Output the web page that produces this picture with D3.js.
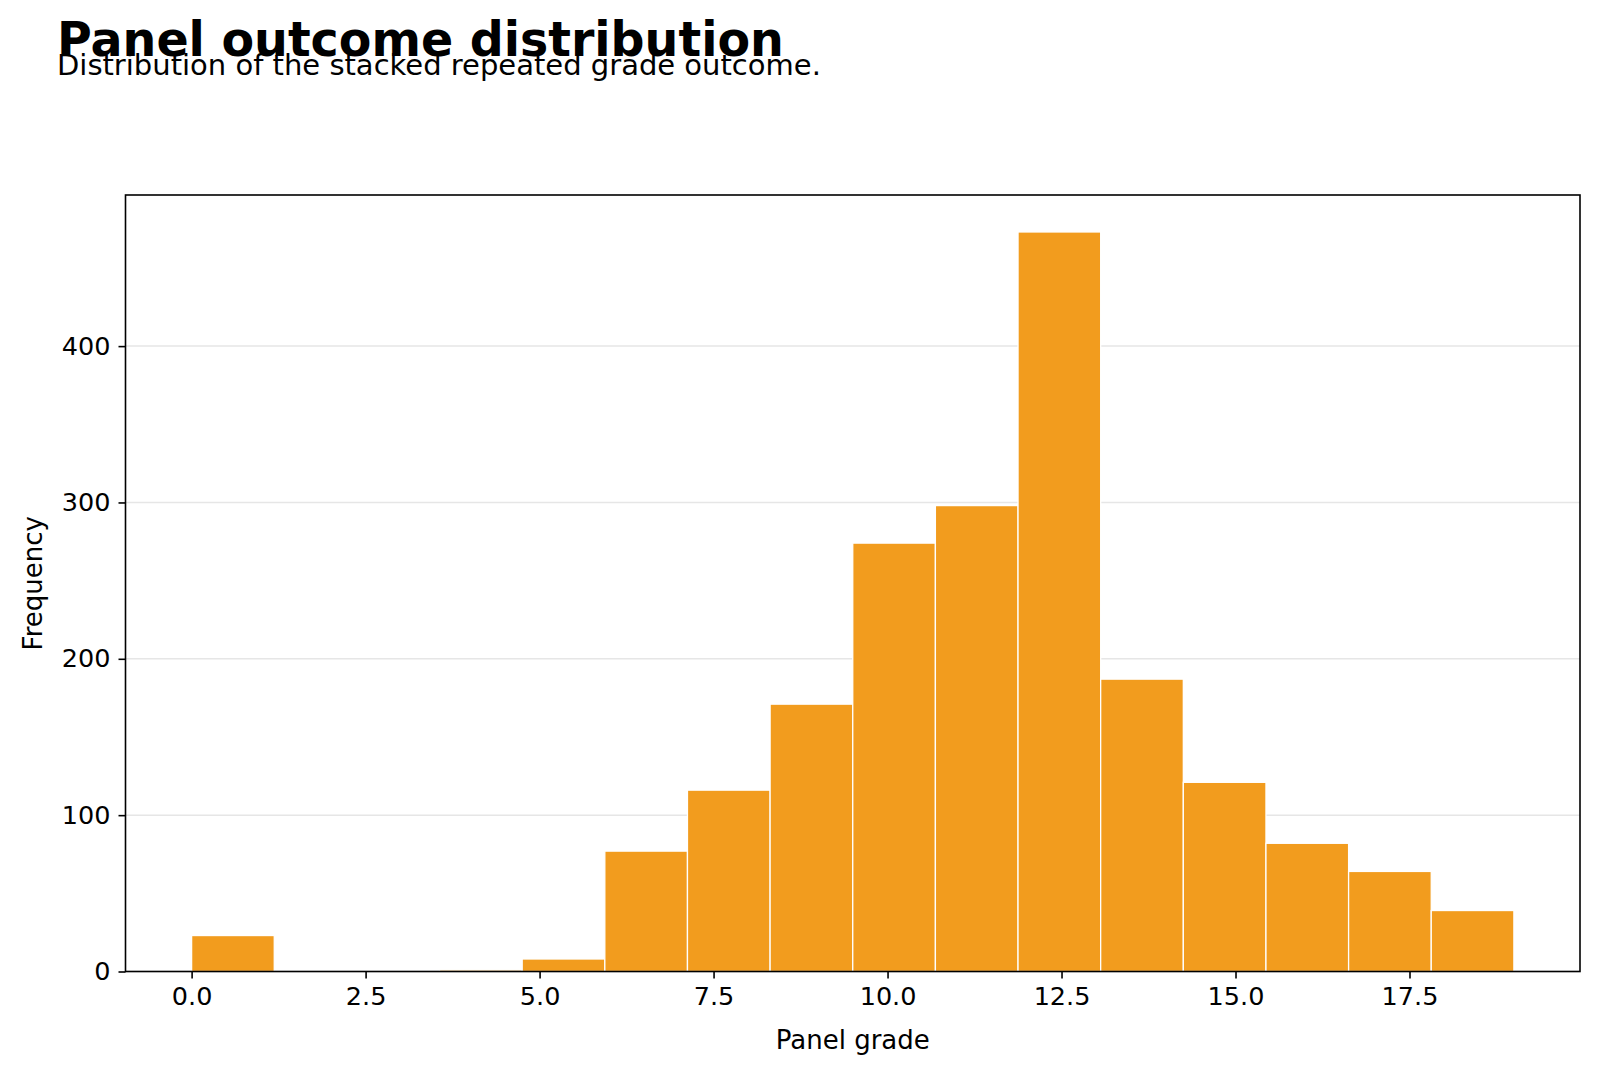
<!DOCTYPE html>
<html>
<head>
<meta charset="utf-8">
<script src="https://cdn.jsdelivr.net/npm/d3@7"></script>
<style>
  body { margin: 0; background: #fff; }
  svg text { font-family: "DejaVu Sans", sans-serif; fill: #000; }
</style>
</head>
<body>
<div id="chart"></div>
<script>
// histogram bins: 16 equal bins between 0 and 19
var binStart = 0,
    binEnd = 19;
var counts = [23, 0, 0, 1, 8, 77, 116, 171, 274, 298, 473, 187, 121, 82, 64, 39];
var xTicks = [0, 2.5, 5, 7.5, 10, 12.5, 15, 17.5];
var yTicks = [0, 100, 200, 300, 400];

var width = 1600,
    height = 1073;
var m = {left: 125.5, right: 20, top: 195, bottom: 101.5};

var svg = d3.select("#chart").append("svg")
    .attr("width", width)
    .attr("height", height);

var binW = (binEnd - binStart) / counts.length;
var bins = counts.map(function(c, i) {
  return {x0: binStart + i * binW, x1: binStart + (i + 1) * binW, n: c};
});

var pad = (binEnd - binStart) * 0.05;
var x = d3.scaleLinear()
    .domain([binStart - pad, binEnd + pad])
    .range([m.left, width - m.right]);
var y = d3.scaleLinear()
    .domain([0, d3.max(counts) * 1.05])
    .range([height - m.bottom, m.top]);

// grid
svg.append("g").selectAll("line")
    .data(yTicks)
  .enter().append("line")
    .attr("x1", x.range()[0])
    .attr("x2", x.range()[1])
    .attr("y1", function(d) { return y(d); })
    .attr("y2", function(d) { return y(d); })
    .style("stroke", "#e6e6e6")
    .style("stroke-width", 1.5);

// bars
svg.append("g").selectAll("rect")
    .data(bins)
  .enter().append("rect")
    .attr("x", function(d) { return x(d.x0); })
    .attr("width", function(d) { return x(d.x1) - x(d.x0); })
    .attr("y", function(d) { return y(d.n); })
    .attr("height", function(d) { return y(0) - y(d.n); })
    .style("fill", "#f29c1e")
    .style("stroke", "#ffffff")
    .style("stroke-width", 1.3);

// axes
var xAxis = svg.append("g")
    .attr("transform", "translate(0," + y(0) + ")")
    .call(d3.axisBottom(x).tickValues(xTicks).tickFormat(d3.format(".1f")).tickSizeOuter(0).tickSize(7).tickPadding(8));
var yAxis = svg.append("g")
    .attr("transform", "translate(" + x.range()[0] + ",0)")
    .call(d3.axisLeft(y).tickValues(yTicks).tickSizeOuter(0).tickSize(7).tickPadding(8));

[xAxis, yAxis].forEach(function(a) {
  a.select(".domain").remove();
  a.selectAll("line").style("stroke", "#000").style("stroke-width", 1.6);
  a.selectAll("text").style("font-size", "25.5px").style("font-family", "DejaVu Sans");
});

// frame
svg.append("rect")
    .attr("x", x.range()[0])
    .attr("y", y.range()[1])
    .attr("width", x.range()[1] - x.range()[0])
    .attr("height", y.range()[0] - y.range()[1])
    .style("fill", "none")
    .style("stroke", "#000")
    .style("stroke-width", 1.6);

// labels
svg.append("text")
    .attr("x", (x.range()[0] + x.range()[1]) / 2)
    .attr("y", 1049)
    .attr("text-anchor", "middle")
    .style("font-size", "26px")
    .text("Panel grade");

svg.append("text")
    .attr("transform", "translate(42," + ((y.range()[0] + y.range()[1]) / 2) + ") rotate(-90)")
    .attr("text-anchor", "middle")
    .style("font-size", "26px")
    .text("Frequency");

svg.append("text")
    .attr("x", 57)
    .attr("y", 56)
    .style("font-size", "47.5px")
    .style("font-weight", "bold")
    .text("Panel outcome distribution");

svg.append("text")
    .attr("x", 57)
    .attr("y", 75)
    .style("font-size", "29px")
    .text("Distribution of the stacked repeated grade outcome.");
</script>
</body>
</html>
